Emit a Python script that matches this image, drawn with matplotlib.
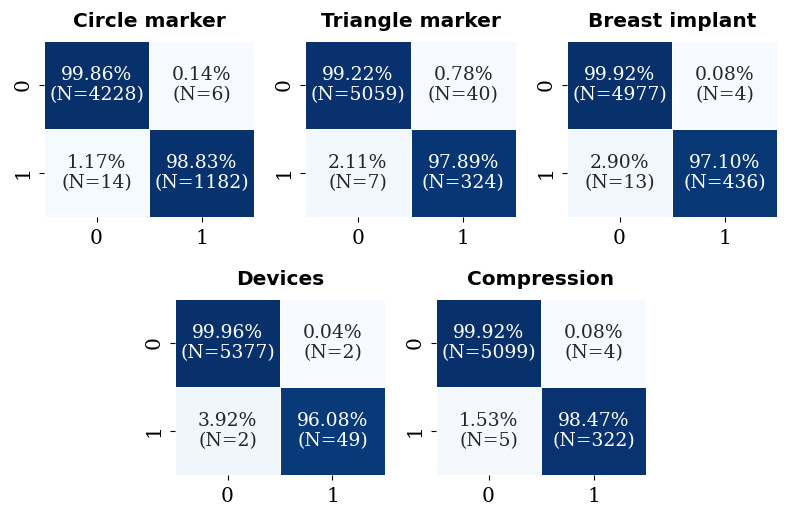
import numpy as np
import matplotlib
matplotlib.use("Agg")
import matplotlib.pyplot as plt
import seaborn as sns

# Confusion matrices (row-normalised percentages and counts)
titles = ['Circle marker', 'Triangle marker', 'Breast implant', 'Devices', 'Compression']
percents = [
    [[99.86, 0.14], [1.17, 98.83]],
    [[99.22, 0.78], [2.11, 97.89]],
    [[99.92, 0.08], [2.90, 97.10]],
    [[99.96, 0.04], [3.92, 96.08]],
    [[99.92, 0.08], [1.53, 98.47]],
]
counts = [
    [[4228, 6], [14, 1182]],
    [[5059, 40], [7, 324]],
    [[4977, 4], [13, 436]],
    [[5377, 2], [2, 49]],
    [[5099, 4], [5, 322]],
]
tick_labels = ['0', '1']

W, H = 790, 520
fig = plt.figure(figsize=(W / 100, H / 100), dpi=100)

# axes boxes in pixels: left, top, width, height
boxes = [
    (44, 41, 210, 176),
    (305, 41, 211, 176),
    (567, 41, 210, 176),
    (175, 299, 210, 176),
    (436, 299, 210, 176),
]

for title, pct, cnt, (l, t, w, h) in zip(titles, percents, counts, boxes):
    ax = fig.add_axes([l / W, 1 - (t + h) / H, w / W, h / H])
    pct = np.array(pct)
    cnt = np.array(cnt)
    annot = np.array([[f'{pct[i, j]:.2f}%\n(N={cnt[i, j]})' for j in range(2)] for i in range(2)])
    sns.heatmap(pct, ax=ax, cmap='Blues', vmin=0, vmax=100, cbar=False,
                annot=annot, fmt='', linewidths=0.5, linecolor='white',
                annot_kws={'family': 'DejaVu Serif', 'fontsize': 13.5},
                xticklabels=tick_labels, yticklabels=tick_labels)
    ax.set_title(title, fontsize=14.5, fontweight='bold', family='DejaVu Sans', pad=10)
    ax.tick_params(labelsize=14.5, pad=5)
    for lab in ax.get_xticklabels() + ax.get_yticklabels():
        lab.set_family('DejaVu Serif')
    plt.setp(ax.get_yticklabels(), rotation=90, va='center')

fig.savefig('out.png', dpi=100)
